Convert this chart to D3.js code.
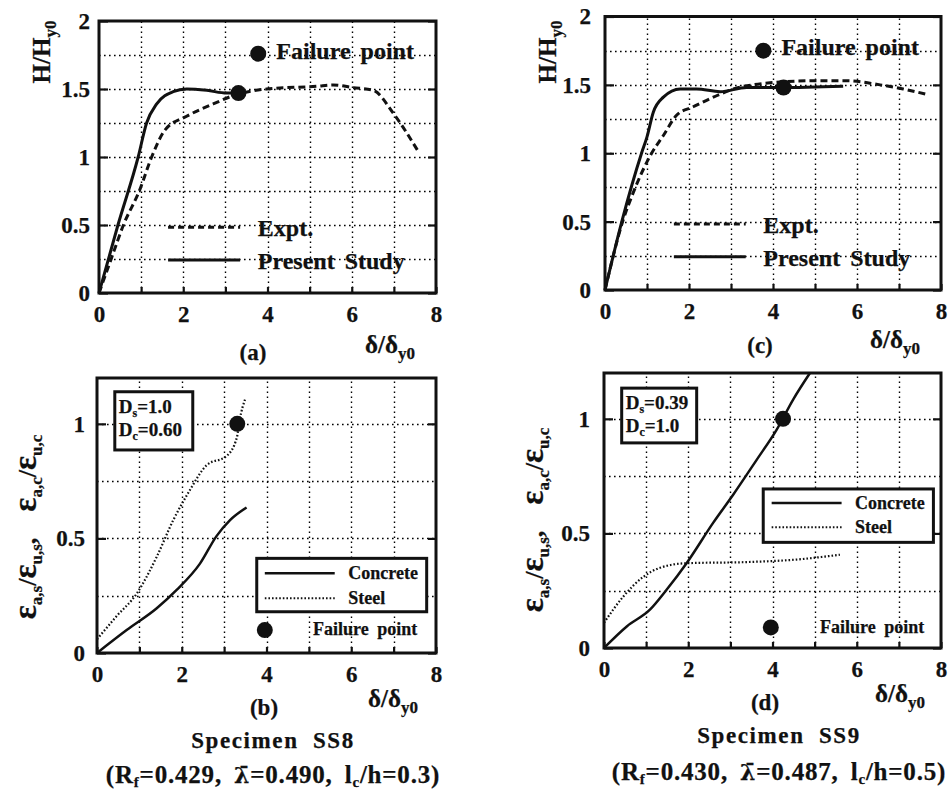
<!DOCTYPE html>
<html><head><meta charset="utf-8">
<script src="https://cdn.jsdelivr.net/npm/d3@7"></script>
<style>
body{margin:0;background:#fff;}
svg text{font-family:"Liberation Serif","Times New Roman",serif;font-weight:bold;fill:#111;stroke:#111;stroke-width:0.25px;}
</style></head><body>
<svg id="chart" width="951" height="792" font-family="Liberation Serif, Times New Roman, serif"></svg>
<script>
// ---- tick values / labels ----
const xTickValues = [0,1,2,3,4,5,6,7,8];
const xTickLabels = ["0","","2","","4","","6","","8"];
const hTickValues = [0,0.5,1,1.5,2];
const hTickLabels = ["0","0.5","1","1.5","2"];
const eTickValues = [0,0.5,1];
const eTickLabels = ["0","0.5","1"];

// ---- SS8 load-displacement (a) ----
const ss8Expt = [[0,0],[0.3,0.26],[0.58,0.5],[0.97,0.76],[1.25,1.0],[1.57,1.2],[2.08,1.3],[2.71,1.39],[3.27,1.46],[3.98,1.5],[5.17,1.52],[5.56,1.53],[6.04,1.51],[6.51,1.49],[6.99,1.32],[7.58,1.04]];
const ss8Present = [[0,0],[0.45,0.5],[0.93,1.0],[1.13,1.25],[1.37,1.39],[1.76,1.48],[2.08,1.5],[2.56,1.49],[3.03,1.47],[3.3,1.47]];
const ss8FailureLoad = [3.31,1.47];

// ---- SS9 load-displacement (c) ----
const ss9Expt = [[0,0],[0.42,0.5],[0.67,0.71],[1.11,1.0],[1.39,1.13],[1.71,1.28],[2.1,1.34],[2.58,1.41],[3.06,1.47],[3.77,1.51],[4.96,1.53],[5.75,1.53],[6.55,1.5],[7.1,1.47],[7.66,1.43]];
const ss9Present = [[0,0],[0.4,0.5],[0.87,1.0],[1.0,1.12],[1.15,1.3],[1.39,1.41],[1.79,1.47],[2.18,1.47],[2.74,1.45],[3.37,1.48],[4.17,1.48],[5.67,1.49]];
const ss9FailureLoad = [4.25,1.48];

// ---- SS8 strains (b) ----
const ss8Concrete = [[0,0],[0.7,0.1],[1.41,0.195],[1.88,0.275],[2.43,0.39],[2.82,0.51],[3.14,0.58],[3.53,0.635]];
const ss8Steel = [[0,0.06],[0.46,0.16],[0.94,0.26],[1.41,0.42],[1.8,0.58],[2.19,0.71],[2.59,0.82],[3.06,0.86],[3.3,0.94],[3.37,1.02],[3.5,1.11]];
const ss8FailureStrain = [3.31,1.0];

// ---- SS9 strains (d) ----
const ss9Concrete = [[0,0],[0.54,0.094],[1.09,0.167],[1.49,0.255],[1.96,0.37],[2.59,0.546],[3.07,0.67],[3.62,0.82],[4.1,0.953],[4.49,1.084],[4.89,1.2]];
const ss9Steel = [[0,0.11],[0.46,0.225],[0.93,0.31],[1.33,0.35],[1.96,0.37],[3.39,0.375],[4.57,0.386],[5.6,0.407]];
const ss9FailureStrain = [4.25,1.0];

const ss8Damage = ["1.0","0.60"];
const ss9Damage = ["0.39","1.0"];
const ss8Params = ["0.429","0.490","0.3"];
const ss9Params = ["0.430","0.487","0.5"];

const svg = d3.select("#chart");

function rich(sel, parts, size, subSize, shift){
  let cur = 0;
  parts.forEach(p=>{
    const target = p.sub ? shift : 0;
    const ts = sel.append("tspan").text(p.t).attr("font-size", p.sub ? subSize : (p.size || size));
    if (p.font) ts.style("font-family", p.font);
    if (target !== cur){ ts.attr("dy", target - cur); cur = target; }
  });
}

function panel(cfg){
  const g = svg.append("g");
  const x = d3.scaleLinear([0,8],[cfg.left,cfg.right]);
  const y = d3.scaleLinear([0,cfg.ymax],[cfg.bottom,cfg.top]);
  // grid
  g.append("g").selectAll("line").data(d3.range(1,8)).join("line")
    .attr("x1",d=>Math.round(x(d))+0.5).attr("x2",d=>Math.round(x(d))+0.5).attr("y1",cfg.bottom).attr("y2",cfg.top)
    .attr("stroke","#000").attr("stroke-width",1.4).attr("stroke-dasharray","1.6,3.4");
  g.append("g").selectAll("line").data(d3.range(0.25,cfg.ymax-0.01,0.25)).join("line")
    .attr("y1",d=>Math.round(y(d))+0.5).attr("y2",d=>Math.round(y(d))+0.5).attr("x1",cfg.left).attr("x2",cfg.right)
    .attr("stroke","#000").attr("stroke-width",1.4).attr("stroke-dasharray","1.6,3.4");
  // axes
  const ax = g.append("g").attr("transform",`translate(0,${cfg.bottom})`)
    .call(d3.axisBottom(x).tickValues(xTickValues).tickFormat((d,i)=>xTickLabels[i]).tickSizeInner(-6).tickSizeOuter(0).tickPadding(13));
  const ay = g.append("g").attr("transform",`translate(${cfg.left},0)`)
    .call(d3.axisLeft(y).tickValues(cfg.yTicks).tickFormat((d,i)=>cfg.yLabels[i]).tickSizeInner(-9).tickSizeOuter(0).tickPadding(cfg.labelGap));
  const ar = g.append("g").attr("transform",`translate(${cfg.right},0)`)
    .call(d3.axisRight(y).tickValues(cfg.yTicks).tickFormat("").tickSizeInner(-8).tickSizeOuter(0));
  [ax,ay,ar].forEach(a=>{
    a.attr("font-family",null);
    a.select(".domain").remove();
    a.selectAll("line").attr("stroke","#111").attr("stroke-width",2.2);
    a.selectAll("text").attr("font-size",23).attr("fill","#111");
  });
  // border
  g.append("rect").attr("x",cfg.left).attr("y",cfg.top).attr("width",cfg.right-cfg.left).attr("height",cfg.bottom-cfg.top)
    .attr("fill","none").attr("stroke","#111").attr("stroke-width",3);
  // series
  const line = d3.line().x(d=>x(d[0])).y(d=>y(d[1])).curve(d3.curveMonotoneX);
  cfg.series.forEach(s=>{
    g.append("path").datum(s.data).attr("d",line).attr("fill","none").attr("stroke","#111")
      .attr("stroke-width",s.w).attr("stroke-dasharray",s.dash||null);
  });
  // failure point
  g.append("circle").attr("cx",x(cfg.fail[0])).attr("cy",y(cfg.fail[1])).attr("r",8).attr("fill","#111");
  // failure legend
  const fl = cfg.failLegend;
  g.append("circle").attr("cx",x(fl.dot[0])).attr("cy",y(fl.dot[1])).attr("r",8).attr("fill","#111");
  g.append("text").attr("x",x(fl.text[0])).attr("y",y(fl.text[1])).attr("font-size",fl.size).attr("word-spacing",fl.ws).text("Failure point");
  // legend
  const lg = cfg.legend;
  if (lg.box){
    g.append("rect").attr("x",x(lg.box[0])).attr("y",y(lg.box[1])).attr("width",x(lg.box[2])-x(lg.box[0])).attr("height",y(lg.box[3])-y(lg.box[1]))
      .attr("fill","#fff").attr("stroke","#111").attr("stroke-width",3);
  }
  lg.items.forEach(it=>{
    g.append("line").attr("x1",x(lg.x0)).attr("x2",x(lg.x1)).attr("y1",y(it.y)).attr("y2",y(it.y))
      .attr("stroke","#111").attr("stroke-width",it.w).attr("stroke-dasharray",it.dash||null);
    g.append("text").attr("x",x(lg.tx)).attr("y",y(it.y)+lg.dy).attr("font-size",lg.size).attr("word-spacing",lg.ws||0).text(it.label);
  });
  // damage box
  if (cfg.damage){
    const db = cfg.damage;
    g.append("rect").attr("x",x(db.box[0])).attr("y",y(db.box[1])).attr("width",x(db.box[2])-x(db.box[0])).attr("height",y(db.box[3])-y(db.box[1]))
      .attr("fill","#fff").attr("stroke","#111").attr("stroke-width",3);
    const t1 = g.append("text").attr("x",x(db.box[0])+4).attr("y",y(db.box[1])+21);
    rich(t1,[{t:"D"},{t:"s",sub:true},{t:"="+db.vals[0]}],19,12,4);
    const t2 = g.append("text").attr("x",x(db.box[0])+4).attr("y",y(db.box[1])+44);
    rich(t2,[{t:"D"},{t:"c",sub:true},{t:"="+db.vals[1]}],19,12,4);
  }
  // y label
  const yl = svg.append("text").attr("transform",`translate(${cfg.ylab[0]},${cfg.ylab[1]}) rotate(-90)`).attr("text-anchor","middle");
  rich(yl, cfg.ylabParts, cfg.ylabSize, cfg.ylabSub, 6);
  // x label
  const xl = svg.append("text").attr("x",cfg.xlab[0]).attr("y",cfg.xlab[1]);
  rich(xl,[{t:"δ/δ"},{t:"y0",sub:true}],25,17,6);
  // panel tag
  svg.append("text").attr("x",cfg.tag[0]).attr("y",cfg.tag[1]).attr("text-anchor","middle").attr("font-size",23).text(cfg.tag[2]);
}

const loadLabel = [{t:"H/H"},{t:"y0",sub:true}];
const strainLabel = [{t:"ε",size:33},{t:"a,s",sub:true},{t:"/"},{t:"ε",size:33},{t:"u,s",sub:true},{t:",\u2002\u2002"},{t:"ε",size:33},{t:"a,c",sub:true},{t:"/"},{t:"ε",size:33},{t:"u,c",sub:true}];
const loadLegend = {x0:1.64,x1:3.35,tx:3.77,dy:9,size:24,ws:4,items:[
  {y:0.483,label:"Expt.",w:3,dash:"6,4"},{y:0.243,label:"Present Study",w:3}]};

panel({left:99,right:436,top:21,bottom:293,ymax:2,yTicks:hTickValues,yLabels:hTickLabels,labelGap:9,
  series:[{data:ss8Expt,w:3,dash:"7,4"},{data:ss8Present,w:3}],
  fail:ss8FailureLoad, failLegend:{dot:[3.78,1.76],text:[4.21,1.72],size:24,ws:4},
  legend:loadLegend, ylab:[50,52], ylabParts:loadLabel, ylabSize:25, ylabSub:17,
  xlab:[365,353], tag:[253,360,"(a)"]});

panel({left:605,right:941,top:16.5,bottom:290,ymax:2,yTicks:hTickValues,yLabels:hTickLabels,labelGap:14,
  series:[{data:ss9Expt,w:3,dash:"7,4"},{data:ss9Present,w:3}],
  fail:ss9FailureLoad, failLegend:{dot:[3.77,1.75],text:[4.2,1.72],size:24,ws:4},
  legend:loadLegend, ylab:[556,52], ylabParts:loadLabel, ylabSize:25, ylabSub:17,
  xlab:[870,348], tag:[760,353,"(c)"]});

panel({left:97,right:436,top:378,bottom:653,ymax:1.2,yTicks:eTickValues,yLabels:eTickLabels,labelGap:12,
  series:[{data:ss8Concrete,w:2.5},{data:ss8Steel,w:2.2,dash:"1.6,2"}],
  fail:ss8FailureStrain, failLegend:{dot:[3.96,0.1],text:[5.1,0.079],size:18,ws:4},
  legend:{box:[3.77,0.413,7.78,0.18],x0:3.96,x1:5.61,tx:5.93,dy:6,size:18,items:[
    {y:0.348,label:"Concrete",w:2.5},{y:0.239,label:"Steel",w:2.2,dash:"1.6,2"}]},
  damage:{box:[0.42,1.14,2.26,0.886],vals:ss8Damage},
  ylab:[36,527], ylabParts:strainLabel, ylabSize:26, ylabSub:17,
  xlab:[368,707], tag:[264,715,"(b)"]});

panel({left:604,right:941,top:373,bottom:648,ymax:1.2,yTicks:eTickValues,yLabels:eTickLabels,labelGap:14,
  series:[{data:ss9Concrete,w:2.5},{data:ss9Steel,w:2.2,dash:"1.6,2"}],
  fail:ss9FailureStrain, failLegend:{dot:[3.96,0.09],text:[5.13,0.066],size:18,ws:4},
  legend:{box:[3.78,0.694,7.82,0.461],x0:3.98,x1:5.64,tx:5.96,dy:6,size:18,items:[
    {y:0.633,label:"Concrete",w:2.5},{y:0.527,label:"Steel",w:2.2,dash:"1.6,2"}]},
  damage:{box:[0.42,1.134,2.2,0.895],vals:ss9Damage},
  ylab:[543,520], ylabParts:strainLabel, ylabSize:26, ylabSub:17,
  xlab:[875,702], tag:[765,710,"(d)"]});

// specimen captions
function caption(cx, y1, y2, name, p){
  svg.append("text").attr("x",cx).attr("y",y1).attr("text-anchor","middle").attr("font-size",23)
    .attr("letter-spacing",1.6).attr("word-spacing",7).text("Specimen " + name);
  const t = svg.append("text").attr("x",cx).attr("y",y2).attr("text-anchor","middle").attr("letter-spacing",0.8).attr("word-spacing",5);
  rich(t,[{t:"(R"},{t:"f",sub:true},{t:"="+p[0]+",  "},{t:"\u03BB\u0304",size:22,font:"DejaVu Serif"},{t:"="+p[1]+",  l"},{t:"c",sub:true},{t:"/h="+p[2]+")"}],25,15,4);
}
caption(273,748,783,"SS8",ss8Params);
caption(779,743,780,"SS9",ss9Params);
</script>
</body></html>
